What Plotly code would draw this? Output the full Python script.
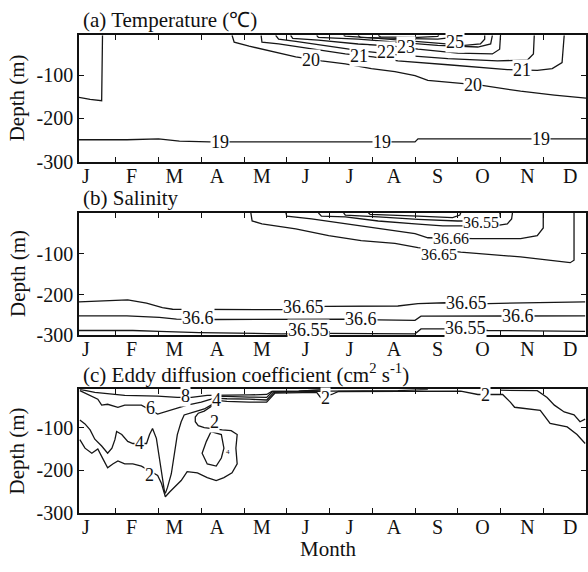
import plotly.graph_objects as go

# ---------------- axes / labels ----------------
month_labels = ["J", "F", "M", "A", "M", "J", "J", "A", "S", "O", "N", "D"]
month_label_pos = [0.30, 1.37, 2.37, 3.37, 4.42, 5.44, 6.47, 7.51, 8.53, 9.58, 10.63, 11.63]
month_bounds = [1, 2, 3, 4, 5, 6, 7, 8, 9, 10, 11]
depth_ticks = [-100, -200, -300]
depth_tick_text = ["-100", "-200", "-300"]

# ---------------- (a) Temperature contours (month, depth) ----------------
t_left_m = [0.14, 0.40, 0.67, 0.69]
t_left_d = [-151, -156, -159, -8]
t19_m = [0.14, 1.26, 2.0, 2.49, 3.19, 6.98, 8.0, 8.07, 11.6, 12.0]
t19_d = [-249, -249, -247, -252, -254, -254, -254, -247, -247, -247]
t20_m = [3.72, 3.77, 4.12, 4.58, 5.21, 5.81, 6.37, 6.98, 7.53, 8.0, 8.30, 9.53, 10.47, 11.26, 12.0]
t20_d = [-8, -24, -33, -44, -58, -67, -74, -85, -92, -101, -112, -123, -137, -146, -153]
t21_m = [4.40, 4.42, 4.81, 5.58, 6.37, 7.02, 7.60, 8.77, 10.16, 10.86, 11.21, 11.44, 11.49]
t21_d = [-8, -24, -28, -40, -51, -58, -67, -76, -87, -89, -85, -71, -8]
t22_m = [4.74, 4.81, 5.21, 5.98, 6.74, 7.60, 8.77, 9.93, 10.63, 10.77, 10.79]
t22_d = [-8, -17, -22, -33, -44, -53, -62, -67, -65, -51, -8]
t23_m = [5.09, 5.14, 5.74, 6.67, 7.49, 8.07, 9.0, 9.81, 9.98, 10.0]
t23_d = [-8, -15, -19, -28, -33, -40, -49, -51, -40, -8]
t24_m = [5.70, 5.74, 6.67, 7.60, 8.53, 9.47, 9.77, 9.81]
t24_d = [-8, -13, -17, -24, -31, -35, -28, -8]
t25_m = [6.33, 6.37, 7.14, 8.07, 8.70, 9.16, 9.53, 9.63, 9.63]
t25_d = [-8, -10, -15, -22, -26, -31, -28, -17, -8]
t26_m = [6.67, 6.72, 7.60, 8.53, 8.88, 8.91]
t26_d = [-8, -13, -15, -17, -13, -8]
t27_m = [7.14, 7.19, 8.07, 8.53, 8.56]
t27_d = [-8, -11.5, -12.6, -10.4, -8]
t_label_text = ["19", "19", "19", "20", "20", "21", "21", "22", "23", "25"]
t_label_m = [3.44, 7.23, 10.95, 5.56, 9.35, 6.70, 10.51, 7.33, 7.79, 8.93]
t_label_d = [-254, -254, -248, -64, -123, -56, -89, -47, -35, -24]

# ---------------- (b) Salinity contours ----------------
s_up3665_m = [4.16, 4.19, 4.42, 5.21, 5.98, 6.74, 7.53, 8.07, 9.07, 10.47, 11.63, 11.72, 11.72]
s_up3665_d = [0, -20, -27, -39, -56, -68, -75, -85, -96, -108, -122, -116, 0]
s_up3666_m = [4.98, 5.0, 5.58, 6.37, 7.14, 8.0, 8.30, 9.35, 10.47, 10.86, 11.0, 11.0]
s_up3666_d = [0, -8, -15, -27, -39, -51, -61, -63, -63, -56, -37, 0]
s_up3655_m = [5.74, 5.81, 6.37, 7.14, 8.0, 8.65, 9.86, 10.16, 10.26, 10.28]
s_up3655_d = [0, -8, -10, -20, -27, -32, -32, -27, -15, 0]
s_up365_m = [6.33, 6.37, 7.14, 8.07, 9.0, 9.88, 9.98, 9.98]
s_up365_d = [0, -5.5, -10, -16, -20, -19, -8, 0]
s_up3645_m = [6.91, 6.95, 8.07, 8.88, 9.05, 9.07]
s_up3645_d = [0, -4, -8, -11.5, -5.5, 0]
s_lo3665_m = [0.14, 1.28, 1.72, 2.09, 2.33, 4.88, 5.91, 7.60, 8.07, 8.72, 9.70, 11.98]
s_lo3665_d = [-218, -213, -221, -232, -236, -237, -229, -228, -222, -220, -222, -218]
s_lo366_m = [0.14, 1.26, 2.02, 2.42, 3.35, 5.0, 6.37, 7.14, 8.0, 8.14, 10.0, 11.98]
s_lo366_d = [-252, -252, -256, -260, -261, -261, -260, -262, -263, -253, -252, -252]
s_lo3655_m = [0.14, 1.40, 2.02, 2.95, 4.88, 5.98, 8.0, 8.14, 8.70, 9.70, 11.98]
s_lo3655_d = [-288, -288, -290, -293, -296, -295, -296, -284, -284, -288, -290]
s_label_text = ["36.55", "36.66", "36.65", "36.65", "36.65", "36.6", "36.6", "36.6", "36.55", "36.55"]
s_label_m = [9.55, 8.84, 8.55, 5.40, 9.21, 2.93, 6.74, 10.42, 5.51, 9.19]
s_label_d = [-24, -63, -101, -230, -221, -257, -260, -252, -286, -281]
s_label_size = [16, 16, 16, 18, 18, 18, 18, 18, 18, 18]

# ---------------- (c) Eddy diffusion coefficient contours ----------------
k8_m = [0.16, 0.51, 1.21, 1.98, 2.44, 2.77, 3.14, 3.37, 3.60, 4.12, 4.53, 4.65, 5.28, 5.98]
k8_d = [-10, -17, -24, -26, -29, -29, -24, -24, -24, -23, -22, -15, -14, -10]
k6_m = [0.16, 0.35, 0.58, 0.67, 0.81, 1.05, 1.21, 1.40, 1.60, 1.98, 2.14, 2.37, 2.67, 3.0,
        3.23, 3.37, 3.60, 4.12, 4.53, 4.67, 5.28, 5.98]
k6_d = [-13, -22, -33, -47, -45, -52, -47, -47, -47, -68, -63, -56, -47, -40,
        -33, -26, -27, -28, -29, -15, -14, -10]
k4_m = [0.16, 0.28, 0.40, 0.51, 0.67, 0.81, 0.91, 0.98, 1.02, 1.14, 1.28, 1.40, 1.72, 1.79,
        1.86, 1.95, 2.02, 2.09, 2.14, 2.16, 2.21, 2.30, 2.37, 2.44, 2.53, 2.60, 2.84, 3.07,
        3.23, 3.35, 3.42, 3.60, 4.12, 4.53, 4.70, 5.98, 7.60, 8.30]
k4_d = [-82, -91, -105, -127, -143, -160, -148, -128, -109, -116, -132, -137, -137, -116,
        -102, -125, -171, -224, -250, -254, -240, -208, -162, -116, -86, -70, -63, -56,
        -47, -35, -31, -32, -33, -35, -17, -14, -13, -10]
k2_m = [0.16, 0.28, 0.44, 0.58, 0.70, 0.81, 0.93, 1.05, 1.21, 1.40, 1.60, 1.98, 2.07, 2.16,
        2.26, 2.37, 2.53, 2.67, 2.91, 3.14, 3.35, 3.53, 3.72, 3.84, 3.81, 3.84, 3.70, 3.49,
        3.07, 2.93, 2.86, 2.86, 2.93, 3.07, 3.23, 3.37, 3.60, 4.12, 4.53, 4.72, 5.70, 5.79,
        6.05, 6.21, 9.07, 9.47, 9.86, 10.05, 10.23, 10.33, 10.93, 11.16, 11.56, 11.79, 11.98]
k2_d = [-128, -148, -160, -150, -173, -194, -185, -178, -185, -185, -190, -212, -231, -262,
        -251, -240, -224, -203, -206, -217, -224, -217, -206, -185, -148, -116, -107, -105,
        -100, -95, -86, -75, -66, -61, -50, -36, -38, -40, -40, -19, -17, -29,
        -22, -15, -14, -22, -22, -22, -40, -52, -59, -90, -98, -116, -137]
k2_loop_m = [3.23, 3.47, 3.53, 3.47, 3.35, 3.14, 3.02, 3.12, 3.23]
k2_loop_d = [-109, -116, -148, -171, -190, -185, -160, -132, -109]
k_right_m = [10.0, 10.86, 11.09, 11.26, 11.49, 11.72, 11.86, 11.98]
k_right_d = [-12, -13, -29, -47, -63, -70, -86, -80]
k_label_text = ["8", "6", "4", "4", "2", "2", "2", "2"]
k_label_m = [2.63, 1.81, 1.56, 3.35, 1.79, 3.30, 5.91, 9.65]
k_label_d = [-26, -54, -137, -36, -210, -87, -31, -24]

# ---------------- figure ----------------
W, H = 588, 572
ML = 79
SERIF = "Liberation Serif"
LINE = dict(color="#161616", width=1.3)

fig = go.Figure()

panels = [
    ("x", "y", [(t_left_m, t_left_d), (t19_m, t19_d), (t20_m, t20_d), (t21_m, t21_d),
                (t22_m, t22_d), (t23_m, t23_d), (t24_m, t24_d), (t25_m, t25_d),
                (t26_m, t26_d), (t27_m, t27_d)]),
    ("x2", "y2", [(s_up3665_m, s_up3665_d), (s_up3666_m, s_up3666_d), (s_up3655_m, s_up3655_d),
                  (s_up365_m, s_up365_d), (s_up3645_m, s_up3645_d), (s_lo3665_m, s_lo3665_d),
                  (s_lo366_m, s_lo366_d), (s_lo3655_m, s_lo3655_d)]),
    ("x3", "y3", [(k8_m, k8_d), (k6_m, k6_d), (k4_m, k4_d), (k2_m, k2_d),
                  (k2_loop_m, k2_loop_d), (k_right_m, k_right_d)]),
]
for xa, ya, lines in panels:
    for m, d in lines:
        fig.add_trace(go.Scatter(x=m, y=d, mode="lines", line=LINE, xaxis=xa, yaxis=ya,
                                 showlegend=False, hoverinfo="skip"))

annotations = []
for texts, ms, ds, sizes, xr, yr in [
        (t_label_text, t_label_m, t_label_d, [18] * len(t_label_text), "x", "y"),
        (s_label_text, s_label_m, s_label_d, s_label_size, "x2", "y2"),
        (k_label_text, k_label_m, k_label_d, [18] * len(k_label_text), "x3", "y3")]:
    for t, m, d, sz in zip(texts, ms, ds, sizes):
        annotations.append(dict(text=t, x=m, y=d, xref=xr, yref=yr, showarrow=False,
                                font=dict(family=SERIF, size=sz, color="#111"),
                                bgcolor="white", borderpad=0))
# tiny label inside the loop
annotations.append(dict(text="4", x=3.62, y=-157, xref="x3", yref="y3", showarrow=False,
                        font=dict(family=SERIF, size=7, color="#111")))


def px_x(px):
    return (px - ML) / (W - ML)


def px_y(py):
    return 1 - py / H


titles = [("(a) Temperature (℃)", 20), ("(b) Salinity", 202),
          ("(c) Eddy diffusion coefficient (cm<sup>2</sup> s<sup>-1</sup>)", 381)]
for t, py in titles:
    annotations.append(dict(text=t, x=px_x(81), y=px_y(py), xref="paper", yref="paper",
                            xanchor="left", yanchor="middle", showarrow=False,
                            font=dict(family=SERIF, size=21, color="#111")))
for py in [100, 279, 460]:
    annotations.append(dict(text="Depth (m)", x=px_x(17), y=px_y(py), xref="paper", yref="paper",
                            xanchor="center", yanchor="middle", textangle=-90, showarrow=False,
                            font=dict(family=SERIF, size=21, color="#111")))
annotations.append(dict(text="Month", x=px_x(329), y=px_y(560), xref="paper", yref="paper",
                        xanchor="center", yanchor="middle", showarrow=False,
                        font=dict(family=SERIF, size=21, color="#111")))

domains = {"": [px_y(165), px_y(36)], "2": [px_y(342), px_y(217)], "3": [px_y(523), px_y(397)]}
yranges = {"": [-300, -8], "2": [-300, 0], "3": [-300, -10]}

layout = dict(width=W, height=H, margin=dict(l=ML, r=0, t=0, b=0),
              paper_bgcolor="white", plot_bgcolor="white", annotations=annotations,
              font=dict(family=SERIF, color="#111"))
for s in ["", "2", "3"]:
    layout["xaxis" + s] = dict(
        domain=[0, 1], anchor="y" + s, range=[0.14, 12.0],
        tickmode="array", tickvals=month_label_pos, ticktext=month_labels, ticks="",
        ticklabelstandoff=-5,
        minor=dict(tickmode="array", tickvals=month_bounds, ticks="inside", ticklen=5,
                   tickwidth=1.2, tickcolor="#111", showgrid=False),
        showline=True, linecolor="#111", linewidth=1.6, mirror="ticks",
        showgrid=False, zeroline=False, tickfont=dict(family=SERIF, size=20, color="#111"),
        fixedrange=True)
    layout["yaxis" + s] = dict(
        domain=domains[s], anchor="x" + s, range=yranges[s],
        tickmode="array", tickvals=depth_ticks, ticktext=depth_tick_text,
        ticks="inside", ticklen=5, tickwidth=1.2, tickcolor="#111",
        showline=True, linecolor="#111", linewidth=1.6, mirror="ticks",
        showgrid=False, zeroline=False, tickfont=dict(family=SERIF, size=20, color="#111"),
        fixedrange=True)

fig.update_layout(**layout)
fig.write_html("out.html", config={"displayModeBar": False})
